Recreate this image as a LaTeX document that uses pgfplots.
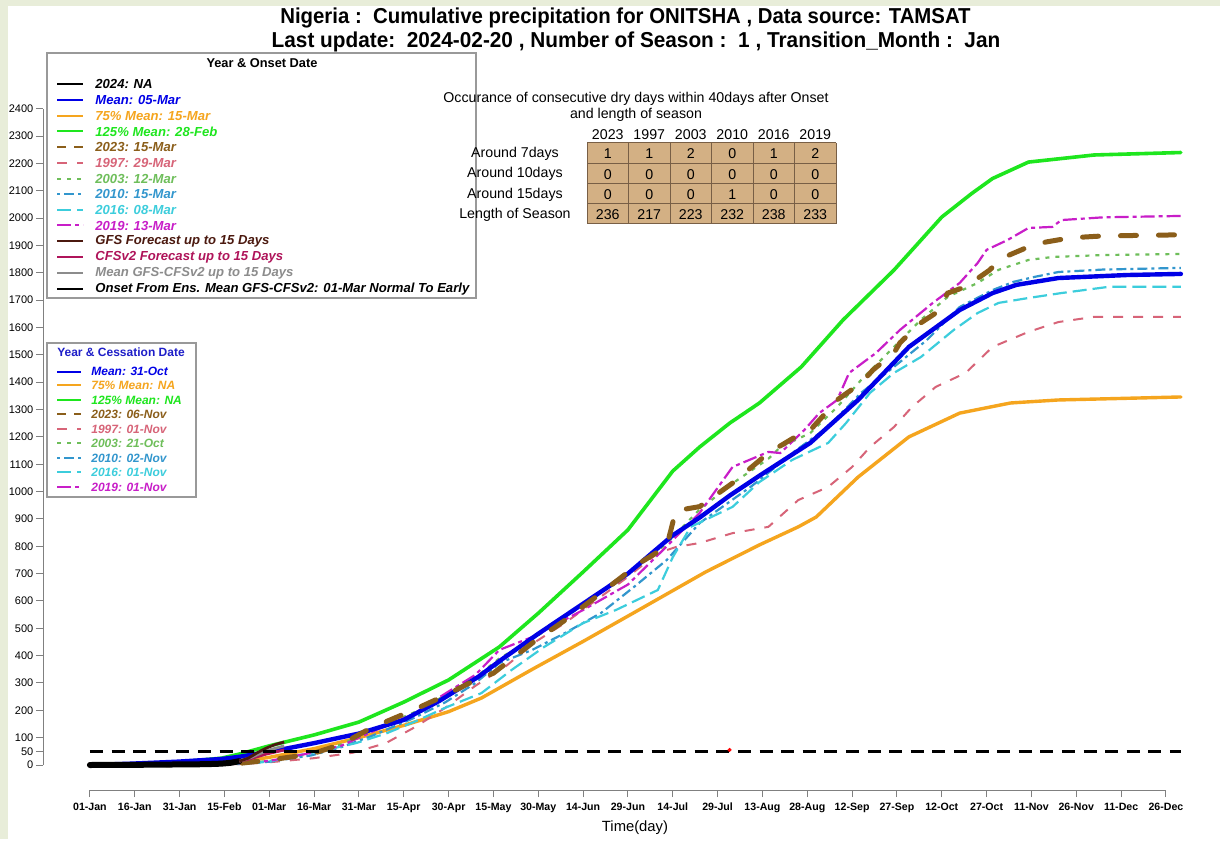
\documentclass[border=0pt]{standalone}
\usepackage{pgfplots}
\pgfplotsset{compat=1.18}
\usepackage{fontspec}
\setmainfont{Liberation Sans}
\definecolor{bgc}{RGB}{232,237,217}
\definecolor{cmean}{RGB}{0,0,230}
\definecolor{corange}{RGB}{245,165,30}
\definecolor{cgreen}{RGB}{30,230,30}
\definecolor{c2023}{RGB}{139,94,26}
\definecolor{c1997}{RGB}{215,100,120}
\definecolor{c2003}{RGB}{110,190,90}
\definecolor{c2010}{RGB}{50,150,205}
\definecolor{c2016}{RGB}{60,205,220}
\definecolor{c2019}{RGB}{200,30,200}
\definecolor{cgfs}{RGB}{75,25,15}
\definecolor{ccfs}{RGB}{175,20,90}
\definecolor{cgray}{RGB}{140,140,140}
\definecolor{ctable}{RGB}{211,176,132}
\definecolor{ctabline}{RGB}{120,95,70}
\definecolor{ctitle2}{RGB}{30,30,200}
\tikzset{
  s2024/.style={black, line width=3pt, line cap=round},
  smean/.style={cmean, line width=2.2pt, line cap=round},
  sorange/.style={corange, line width=1.7pt, line cap=round},
  sgreen/.style={cgreen, line width=1.8pt, line cap=round},
  s2023/.style={c2023, line width=2.5pt, line cap=round, dash pattern=on 8pt off 11pt},
  l2023/.style={c2023, dash pattern=on 4.5pt off 4pt},
  s1997/.style={c1997, line width=1pt, dash pattern=on 5pt off 5pt},
  s2003/.style={c2003, line width=1.1pt, dash pattern=on 2pt off 3pt},
  s2010/.style={c2010, line width=1.1pt, dash pattern=on 1.5pt off 2pt on 5pt off 2pt},
  s2016/.style={c2016, line width=1.1pt, dash pattern=on 7pt off 3pt},
  s2019/.style={c2019, line width=1.1pt, dash pattern=on 7pt off 2pt on 2pt off 2pt},
  sgfs/.style={cgfs, line width=1.4pt},
  scfs/.style={ccfs, line width=1.4pt},
  sgm/.style={cgray, line width=1.4pt},
  sons/.style={black, line width=1.4pt},
}
\begin{document}
\begin{tikzpicture}
\fill[bgc] (0,0) rectangle (610pt,419.5pt);
\fill[white] (4pt,0) rectangle (610pt,416.5pt);
\begin{axis}[
  at={(21.5pt,24.5pt)}, anchor=south west,
  scale only axis, width=578.5pt, height=368.5pt,
  xmin=-14.7, xmax=372.4, ymin=-91.4, ymax=2604,
  axis line style={draw=none},
  tick pos=left,
  xtick={1,16,...,361},
  xticklabels={01-Jan,16-Jan,31-Jan,15-Feb,01-Mar,16-Mar,31-Mar,15-Apr,30-Apr,15-May,30-May,14-Jun,29-Jun,14-Jul,29-Jul,13-Aug,28-Aug,12-Sep,27-Sep,12-Oct,27-Oct,11-Nov,26-Nov,11-Dec,26-Dec},
  ytick={0,50,100,200,300,400,500,600,700,800,900,1000,1100,1200,1300,1400,1500,1600,1700,1800,1900,2000,2100,2200,2300,2400},
  tick align=outside, major tick length=3.5pt,
  tick style={draw=gray, line width=0.5pt},
  x tick label style={font=\fontsize{5.3}{6}\selectfont\bfseries, yshift=0.5pt},
  y tick label style={font=\fontsize{5.5}{6}\selectfont, xshift=2.2pt},
  /pgf/number format/assume math mode=true,
  /pgf/number format/set thousands separator={},
]
\draw[gray, line width=0.5pt] (axis cs:1,-91.4) -- (axis cs:361,-91.4);
\draw[gray, line width=0.5pt] (axis cs:-14.7,0) -- (axis cs:-14.7,2400);

\addplot[sgreen] coordinates {(1,0)(15,4)(30,10)(45,25)(51,40)(61,70)(76,110)(91,157)(106,230)(121,311)(138,432)(151,555)(166,706)(181,860)(196,1075)(205,1163)(215,1250)(225,1324)(239,1456)(253,1628)(270,1810)(286,2004)(296,2090)(303,2145)(315,2205)(337,2231)(366,2240)};
\addplot[sorange] coordinates {(1,0)(30,4)(51,12)(61,28)(76,60)(91,100)(106,145)(121,195)(132,245)(149,350)(166,452)(183,557)(207,706)(225,805)(238,871)(244,907)(258,1053)(275,1200)(292,1287)(309,1324)(325,1335)(366,1346)};
\addplot[s1997] coordinates {(1,0)(51,3)(61,10)(76,25)(89,45)(100,80)(110,140)(120,210)(130,290)(140,360)(150,450)(160,520)(170,600)(180,680)(191,775)(197,797)(205,812)(216,848)(228,871)(238,969)(248,1017)(256,1090)(262,1163)(270,1236)(276,1309)(284,1383)(294,1434)(303,1529)(315,1584)(325,1620)(337,1639)(366,1639)};
\addplot[s2003] coordinates {(1,0)(51,5)(61,15)(72,35)(85,75)(95,125)(109,190)(120,255)(130,320)(138,390)(149,460)(160,540)(172,630)(185,730)(194,810)(205,935)(216,1030)(228,1120)(232,1163)(242,1214)(251,1309)(259,1408)(270,1529)(279,1628)(288,1712)(298,1763)(305,1811)(315,1847)(323,1858)(340,1865)(366,1869)};
\addplot[s2010] coordinates {(1,0)(51,4)(61,12)(75,35)(85,65)(95,105)(109,170)(120,230)(130,300)(138,373)(149,421)(160,483)(172,556)(183,651)(194,750)(205,885)(222,1017)(225,1042)(236,1141)(248,1237)(259,1361)(270,1456)(281,1554)(292,1675)(303,1737)(310,1767)(317,1785)(325,1803)(340,1812)(366,1818)};
\addplot[s2016] coordinates {(1,0)(51,5)(61,12)(68,30)(80,55)(90,80)(100,115)(110,160)(120,210)(132,263)(142,347)(153,432)(166,519)(177,567)(191,640)(196,760)(202,871)(216,944)(225,1035)(236,1116)(248,1178)(254,1251)(262,1361)(270,1434)(279,1492)(290,1591)(298,1653)(305,1690)(315,1708)(326,1726)(342,1749)(366,1749)};
\addplot[s2019] coordinates {(1,0)(30,2)(51,6)(61,15)(73,40)(85,70)(95,120)(109,185)(120,262)(130,330)(138,421)(149,468)(166,567)(181,660)(194,800)(205,922)(216,1090)(228,1145)(232,1141)(240,1225)(245,1287)(251,1335)(255,1434)(264,1507)(272,1591)(283,1690)(292,1763)(298,1836)(301,1884)(308,1920)(315,1964)(323,1968)(326,1993)(340,2003)(366,2008)};
\addplot[smean] coordinates {(1,0)(15,5)(30,12)(45,22)(51,30)(61,48)(76,80)(91,115)(106,165)(118,235)(131,323)(138,380)(151,480)(166,590)(181,700)(196,840)(205,905)(215,985)(225,1058)(242,1178)(258,1335)(275,1529)(292,1664)(303,1726)(311,1756)(325,1781)(348,1792)(366,1796)};
\addplot[s2023] coordinates {(1,0)(30,2)(51,6)(61,18)(75,40)(85,75)(95,135)(109,200)(120,255)(128,300)(136,336)(149,446)(160,530)(172,629)(185,739)(194,800)(197,930)(205,945)(216,1031)(228,1141)(237,1200)(242,1225)(246,1273)(251,1335)(259,1397)(263,1445)(270,1507)(272,1544)(279,1617)(284,1653)(288,1726)(294,1749)(302,1810)(306,1853)(315,1895)(321,1913)(329,1928)(340,1935)(366,1939)};
\addplot[s2024] coordinates {(1,0)(10,0.5)(20,1)(30,2)(40,3)(45,5)(48,8)(51,14)};
\addplot[scfs] coordinates {(51,14)(55,24)(60,40)(66,55)};
\addplot[sgm] coordinates {(51,14)(55,28)(60,52)(66,70)};
\addplot[sgfs] coordinates {(51,14)(54,25)(57,45)(60,62)(63,75)(66,84)};
\addplot[black, line width=1.5pt, dash pattern=on 6.5pt off 4.3pt] coordinates {(1,50)(366,50)};
\addplot[only marks, mark=*, mark size=0.8pt, red] coordinates {(215,55)};
\end{axis}

\begin{scope}[x=0.5pt, y=-0.5pt, shift={(0pt,419.5pt)}]
% titles
\node[font=\fontsize{10.8}{12}\selectfont\bfseries] at (625.5,18) {\scalebox{0.943}[1]{Nigeria :\ \ Cumulative precipitation for ONITSHA , Data source: TAMSAT}};
\node[font=\fontsize{10.8}{12}\selectfont\bfseries] at (636,42) {\scalebox{0.962}[1]{Last update:\ \ 2024-02-20 , Number of Season :\ \ 1 , Transition\_Month :\ \ Jan}};
\node[font=\fontsize{7.4}{9}\selectfont] at (635,828) {Time(day)};

% legend 1
\draw[gray!80, line width=0.6pt, fill=white] (47,53) rectangle (476,298);
\node[font=\fontsize{6.4}{7}\selectfont\bfseries] at (262,63) {Year \& Onset Date};
\foreach \yy/\st/\col/\txt in {
  84/s2024/black/2024: NA,
  100/smean/cmean/Mean: 05-Mar,
  115.7/sorange/corange/75\% Mean: 15-Mar,
  131.4/sgreen/cgreen/125\% Mean: 28-Feb,
  147.3/l2023/c2023/2023: 15-Mar,
  163/s1997/c1997/1997: 29-Mar,
  178.7/s2003/c2003/2003: 12-Mar,
  194.4/s2010/c2010/2010: 15-Mar,
  210/s2016/c2016/2016: 08-Mar,
  225.5/s2019/c2019/2019: 13-Mar,
  241.5/sgfs/cgfs/GFS Forecast up to 15 Days,
  257.2/scfs/ccfs/CFSv2 Forecast up to 15 Days,
  273/sgm/cgray/Mean GFS-CFSv2 up to 15 Days,
  288.7/sons/black/Onset From Ens. Mean GFS-CFSv2: 01-Mar Normal To Early}{
  \draw[\st, line width=1pt, line cap=butt] (57,\yy) -- (83,\yy);
  \node[anchor=west, text=\col, inner sep=0pt, font=\fontsize{6.55}{7}\selectfont\bfseries\itshape] at (95,\yy) {\txt};
}

% legend 2
\draw[gray!80, line width=0.6pt, fill=white] (47,343) rectangle (196,497);
\node[font=\fontsize{6}{7}\selectfont\bfseries, text=ctitle2] at (121,352) {Year \& Cessation Date};
\foreach \yy/\st/\col/\txt in {
  371.7/smean/cmean/Mean: 31-Oct,
  385.5/sorange/corange/75\% Mean: NA,
  400/sgreen/cgreen/125\% Mean: NA,
  414.5/l2023/c2023/2023: 06-Nov,
  429/s1997/c1997/1997: 01-Nov,
  443.5/s2003/c2003/2003: 21-Oct,
  458/s2010/c2010/2010: 02-Nov,
  472.5/s2016/c2016/2016: 01-Nov,
  487/s2019/c2019/2019: 01-Nov}{
  \draw[\st, line width=1pt, line cap=butt] (57,\yy) -- (81,\yy);
  \node[anchor=west, text=\col, inner sep=0pt, font=\fontsize{6}{7}\selectfont\bfseries\itshape] at (91,\yy) {\txt};
}

% table
\node[font=\fontsize{7.1}{8}\selectfont] at (636,99) {Occurance of consecutive dry days within 40days after Onset};
\node[font=\fontsize{7.1}{8}\selectfont] at (636,115) {and length of season};
\fill[ctable] (587,143) rectangle (836,224);
\foreach \i in {0,...,6} { \draw[ctabline, line width=0.5pt] ({587+41.5*\i},143) -- ({587+41.5*\i},224); }
\foreach \j in {0,...,4} { \draw[ctabline, line width=0.5pt] (587,{143+20.25*\j}) -- (836,{143+20.25*\j}); }
\foreach \i/\yr in {0/2023,1/1997,2/2003,3/2010,4/2016,5/2019} {
  \node[font=\fontsize{7.1}{8}\selectfont] at ({607.75+41.5*\i},135) {\yr};
}
\foreach \j/\lab in {0/Around 7days,1/Around 10days,2/Around 15days,3/Length of Season} {
  \node[font=\fontsize{7.1}{8}\selectfont] at (515,{154+20.25*\j}) {\lab};
}
\foreach \j/\row in {0/{1,1,2,0,1,2},1/{0,0,0,0,0,0},2/{0,0,0,1,0,0},3/{236,217,223,232,238,233}} {
  \foreach \v [count=\i from 0] in \row {
    \node[font=\fontsize{7.1}{8}\selectfont] at ({607.75+41.5*\i},{154+20.25*\j}) {\v};
  }
}
\end{scope}
\end{tikzpicture}
\end{document}
